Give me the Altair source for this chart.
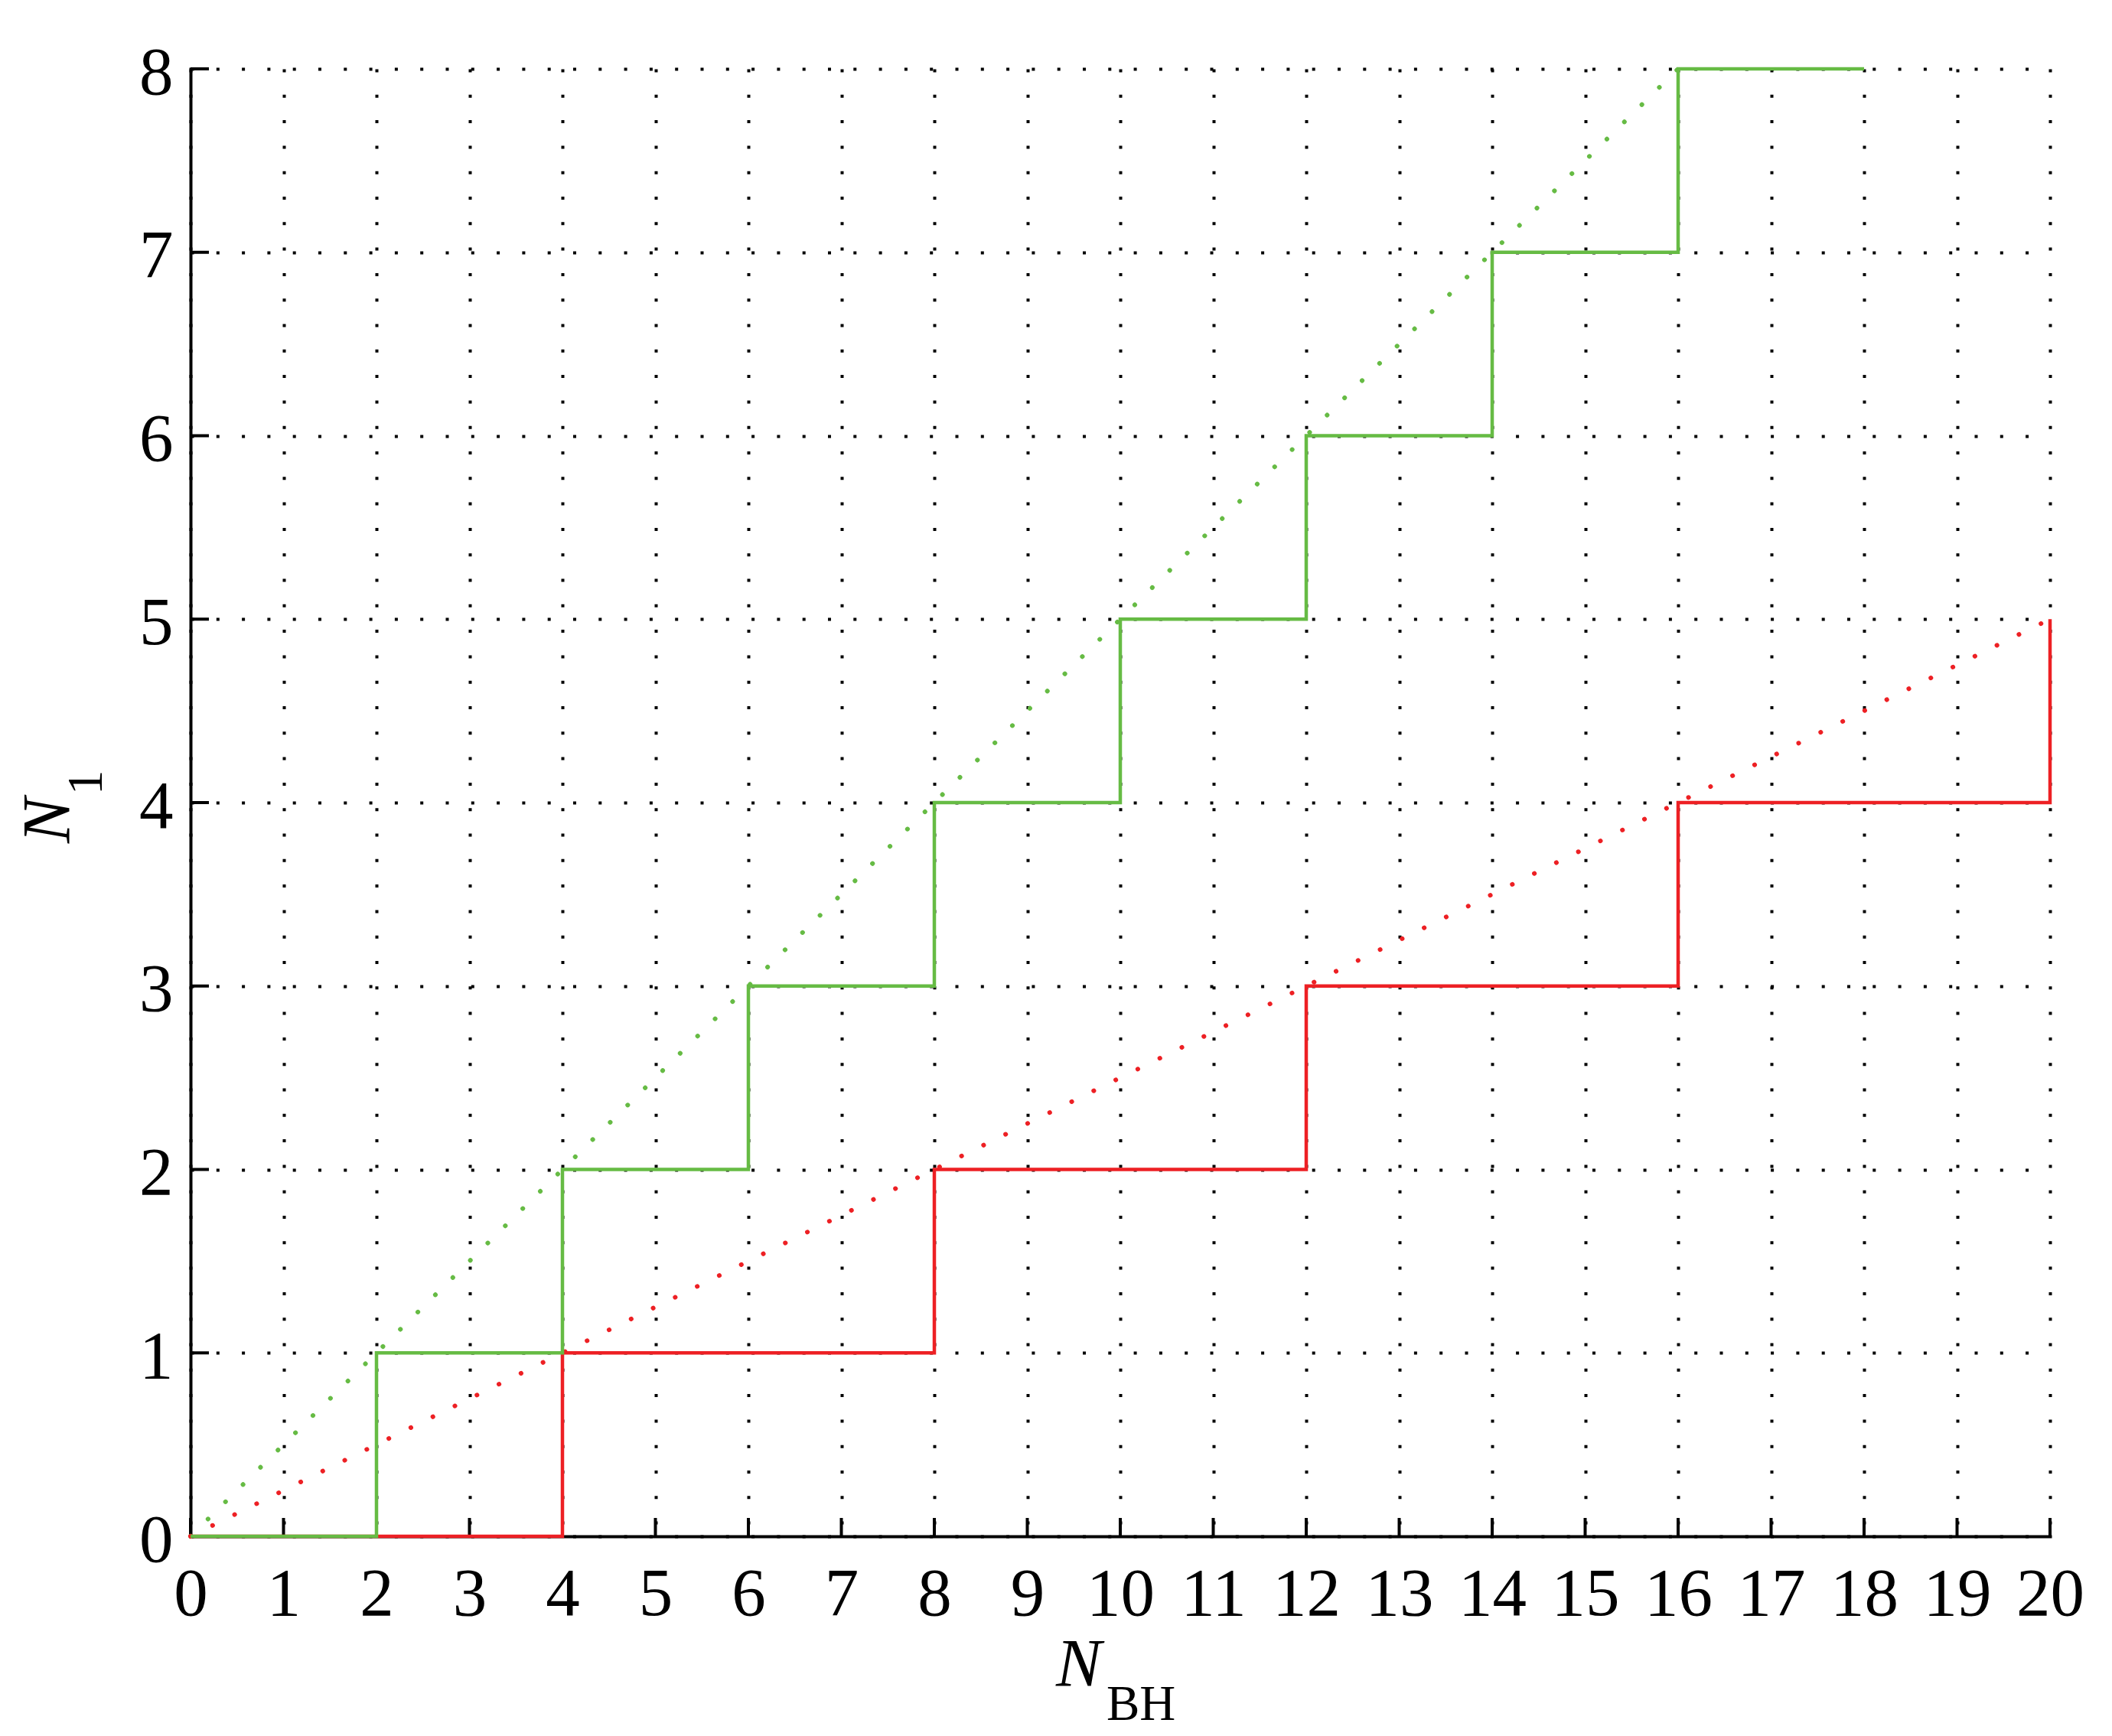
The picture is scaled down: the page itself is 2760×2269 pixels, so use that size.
import altair as alt
import pandas as pd

# ---- data ----
x_ticks = list(range(0, 21))
y_ticks = list(range(0, 9))

green_x = [0, 2, 4, 6, 8, 10, 12, 14, 16, 18]
green_y = [0, 1, 2, 3, 4, 5, 6, 7, 8, 8]
red_x = [0, 4, 8, 12, 16, 20]
red_y = [0, 1, 2, 3, 4, 5]

green_diag_x = [0, 16]
green_diag_y = [0, 8]
red_diag_x = [0, 20]
red_diag_y = [0, 5]

x_title_main, x_title_sub = "N", "BH"
y_title_main, y_title_sub = "N", "1"

# ---- styling ----
GREEN = "#66BB44"
RED = "#ED2024"
W, H = 2430, 1918
FONT = "Times New Roman, Liberation Serif, Times, serif"
FS = 89
FS_SUB = 65
TICK = 24

xscale = alt.Scale(domain=[0, 20], nice=False, zero=False)
yscale = alt.Scale(domain=[0, 8], nice=False, zero=False)

xaxis = alt.Axis(
    values=x_ticks, format="d", title=None,
    grid=True, gridDash=[4, 29.3], gridColor="black", gridWidth=4, gridOpacity=1,
    domainColor="black", domainWidth=4, domainCap="square",
    ticks=False, tickSize=0,
    labelFont=FONT, labelFontSize=FS, labelColor="black",
    labelPadding=102, labelBaseline="alphabetic", labelAlign="center",
    labelFlush=False, labelOverlap=False,
)
yaxis = alt.Axis(
    values=y_ticks, format="d", title=None,
    grid=True, gridDash=[4, 29.3], gridColor="black", gridWidth=4, gridOpacity=1,
    domainColor="black", domainWidth=4, domainCap="square",
    ticks=False, tickSize=0,
    labelFont=FONT, labelFontSize=FS, labelColor="black",
    labelPadding=23, labelBaseline="alphabetic", labelAlign="right", labelOffset=32,
    labelFlush=False, labelOverlap=False,
)

# inward ticks
xt = alt.Chart(pd.DataFrame({"x": x_ticks})).mark_rule(color="black", strokeWidth=4).encode(
    x=alt.X("x:Q", scale=xscale, axis=xaxis),
    y=alt.value(H), y2=alt.value(H - TICK),
)
yt = alt.Chart(pd.DataFrame({"y": y_ticks})).mark_rule(color="black", strokeWidth=4).encode(
    y=alt.Y("y:Q", scale=yscale, axis=yaxis),
    x=alt.value(0), x2=alt.value(TICK),
)


def diag(xs, ys, color):
    return alt.Chart(pd.DataFrame({"x": xs, "y": ys})).mark_line(
        color=color, strokeWidth=6, strokeDash=[0.1, 32], strokeCap="round"
    ).encode(
        x=alt.X("x:Q", scale=xscale, axis=xaxis),
        y=alt.Y("y:Q", scale=yscale, axis=yaxis),
    )


def step(xs, ys, color):
    return alt.Chart(pd.DataFrame({"x": xs, "y": ys})).mark_line(
        color=color, strokeWidth=4.5, interpolate="step-after", strokeJoin="miter", strokeCap="butt"
    ).encode(
        x=alt.X("x:Q", scale=xscale, axis=xaxis),
        y=alt.Y("y:Q", scale=yscale, axis=yaxis),
    )


def label(text, px, py, size, italic=False, angle=0):
    kw = dict(font=FONT, fontSize=size, color="black", align="left", baseline="alphabetic")
    if italic:
        kw["fontStyle"] = "italic"
    if angle:
        kw["angle"] = angle
    return alt.Chart(pd.DataFrame({"t": [text]})).mark_text(**kw).encode(
        x=alt.value(px), y=alt.value(py), text="t:N"
    )


titles = [
    label(x_title_main, 1131, 2113, FS, italic=True),
    label(x_title_sub, 1197, 2158, FS_SUB),
    label(y_title_main, -159, 1012, FS, italic=True, angle=270),
    label(y_title_sub, -116, 949, FS_SUB, angle=270),
]

chart = alt.layer(
    xt, yt,
    diag(green_diag_x, green_diag_y, GREEN),
    diag(red_diag_x, red_diag_y, RED),
    step(red_x, red_y, RED),
    step(green_x, green_y, GREEN),
    *titles,
).properties(
    width=W, height=H,
    autosize=alt.AutoSizeParams(type="none"),
    padding={"left": 241, "top": 82, "right": 73, "bottom": 253},
    background="white",
).configure_view(stroke=None)

chart.save("out.html", embed_options={"renderer": "svg", "actions": False})
